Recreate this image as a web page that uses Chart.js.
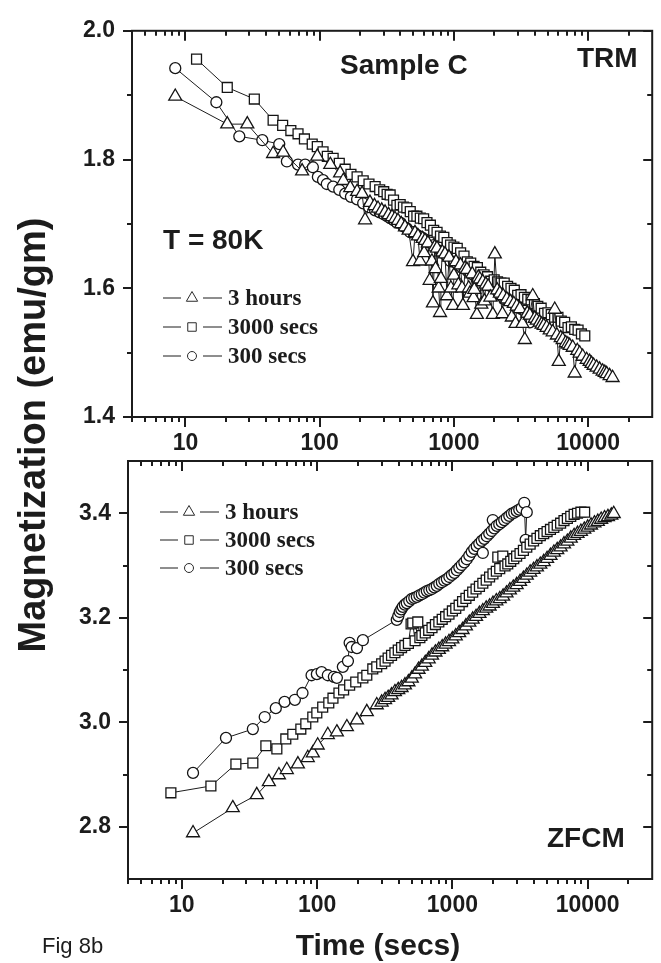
<!DOCTYPE html>
<html>
<head>
<meta charset="utf-8">
<title>Sample C - TRM / ZFCM</title>
<script src="https://cdn.jsdelivr.net/npm/chart.js@4.4.1/dist/chart.umd.min.js"></script>
<style>
  html, body { margin: 0; padding: 0; background: #fff; }
  #page { position: relative; width: 661px; height: 963px; }
  #page canvas { position: absolute; left: 0; top: 0; }
</style>
</head>
<body>
<div id="page">
  <canvas id="zfcmChart" width="661" height="963"></canvas>
  <canvas id="trmChart" width="661" height="963"></canvas>
</div>
<script>
// time axis (secs), shared by both panels
const xMin = 4;
const xMax = 30000;
const xTickValues = [10, 100, 1000, 10000];
const xMinorValues = [4, 5, 6, 7, 8, 9, 20, 30, 40, 50, 60, 70, 80, 90, 200, 300, 400, 500, 600, 700, 800, 900,
  2000, 3000, 4000, 5000, 6000, 7000, 8000, 9000, 20000];

const seriesNames = ['3 hours', '3000 secs', '300 secs'];

// TRM panel (upper)
const trmTicks = [1.4, 1.6, 1.8, 2.0];
const trmMinor = [1.5, 1.7, 1.9];

const trmTime3h = [
  8.4, 20.5, 28.9, 45, 53.5, 74, 96, 120, 142, 150,
  169, 190, 207, 218, 237, 256, 272, 290, 307, 326,
  346, 364, 383, 405, 432, 460, 496, 513, 540, 559,
  585, 600, 609, 640, 660, 686, 698, 720, 730, 748,
  770, 788, 800, 820, 858, 888, 920, 950, 984, 1000,
  1036, 1080, 1120, 1150, 1167, 1210, 1250, 1290, 1316, 1370,
  1400, 1420, 1483, 1520, 1561, 1600, 1640, 1690, 1730, 1800,
  1870, 1950, 2018, 2100, 2199, 2300, 2330, 2479, 2630, 2700,
  2794, 2880, 2940, 3097, 3240, 3375, 3520, 3675, 3866, 4000,
  4142, 4356, 4500, 4669, 4909, 5173, 5445, 5637, 5850, 6040,
  6250, 6463, 6808, 7050, 7285, 7674, 7936, 8300, 8650, 9103,
  9750, 10260, 10600, 10990, 11560, 12180, 12820, 13300, 13740, 14450,
  15210];
const trmMag3h = [
  1.898, 1.855, 1.855, 1.809, 1.811, 1.782, 1.805, 1.792, 1.779, 1.767,
  1.756, 1.750, 1.747, 1.706, 1.733, 1.728, 1.724, 1.721, 1.718, 1.714,
  1.711, 1.708, 1.705, 1.700, 1.695, 1.690, 1.641, 1.686, 1.681, 1.642,
  1.677, 1.655, 1.674, 1.670, 1.612, 1.642, 1.577, 1.664, 1.630, 1.662,
  1.600, 1.562, 1.615, 1.656, 1.653, 1.588, 1.648, 1.600, 1.573, 1.620,
  1.641, 1.605, 1.636, 1.600, 1.573, 1.631, 1.629, 1.600, 1.592, 1.622,
  1.585, 1.598, 1.559, 1.617, 1.614, 1.575, 1.610, 1.580, 1.606, 1.603,
  1.586, 1.559, 1.653, 1.597, 1.592, 1.560, 1.588, 1.583, 1.579, 1.555,
  1.576, 1.545, 1.572, 1.568, 1.545, 1.520, 1.561, 1.558, 1.588, 1.553,
  1.550, 1.547, 1.544, 1.542, 1.539, 1.535, 1.532, 1.567, 1.527, 1.486,
  1.523, 1.520, 1.515, 1.513, 1.511, 1.508, 1.468, 1.503, 1.499, 1.494,
  1.489, 1.486, 1.483, 1.480, 1.477, 1.474, 1.471, 1.469, 1.467, 1.464,
  1.461];

const trmTime3000 = [
  12.1, 20.5, 32.6, 45, 53, 61, 69, 77, 88, 96,
  106, 114, 126, 140, 155, 171, 190, 211, 233, 259,
  280, 300, 318, 335, 355, 376, 398, 421, 446, 473,
  501, 530, 562, 595, 630, 668, 707, 749, 794, 841,
  891, 944, 1000, 1059, 1122, 1189, 1259, 1334, 1413, 1496,
  1585, 1679, 1778, 1884, 1995, 2113, 2239, 2371, 2512, 2661,
  2818, 2985, 3162, 3350, 3548, 3758, 3981, 4217, 4467, 4732,
  5012, 5309, 5623, 5957, 6310, 6683, 7079, 7499, 7943, 8414,
  8913, 9441];
const trmMag3000 = [
  1.956, 1.912, 1.894, 1.861, 1.853, 1.845, 1.840, 1.832, 1.824, 1.820,
  1.812, 1.805, 1.802, 1.794, 1.785, 1.777, 1.773, 1.767, 1.762, 1.758,
  1.753, 1.750, 1.746, 1.745, 1.737, 1.729, 1.730, 1.726, 1.725, 1.719,
  1.712, 1.712, 1.709, 1.708, 1.702, 1.698, 1.690, 1.687, 1.681, 1.679,
  1.671, 1.667, 1.664, 1.662, 1.655, 1.650, 1.641, 1.639, 1.634, 1.632,
  1.625, 1.621, 1.618, 1.611, 1.613, 1.610, 1.608, 1.608, 1.603, 1.600,
  1.597, 1.589, 1.590, 1.586, 1.583, 1.582, 1.576, 1.572, 1.569, 1.561,
  1.562, 1.559, 1.555, 1.555, 1.549, 1.547, 1.539, 1.540, 1.536, 1.535,
  1.529, 1.526];

const trmTime300 = [
  8.4, 17, 25.2, 37.4, 50, 57, 69, 78, 89, 97,
  106, 113, 126, 140, 155, 171, 190, 211, 233, 259,
  280, 300, 318, 335, 355, 376, 398, 421, 446, 473,
  501, 530, 562, 595, 630, 668, 707, 749, 794, 841,
  891, 944, 1000, 1059, 1122, 1189, 1259, 1334, 1413, 1496,
  1585, 1679, 1778, 1884, 1995, 2113, 2239, 2371, 2512, 2661,
  2818, 2985, 3162, 3350, 3548, 3675];
const trmMag300 = [
  1.942, 1.889, 1.836, 1.830, 1.824, 1.797, 1.792, 1.792, 1.788, 1.773,
  1.768, 1.762, 1.758, 1.753, 1.747, 1.742, 1.738, 1.732, 1.726, 1.721,
  1.718, 1.715, 1.712, 1.709, 1.706, 1.702, 1.702, 1.696, 1.693, 1.687,
  1.687, 1.683, 1.680, 1.677, 1.672, 1.671, 1.667, 1.666, 1.658, 1.654,
  1.649, 1.642, 1.641, 1.638, 1.634, 1.633, 1.627, 1.623, 1.620, 1.613,
  1.613, 1.609, 1.605, 1.604, 1.597, 1.593, 1.589, 1.583, 1.583, 1.579,
  1.576, 1.575, 1.568, 1.565, 1.561, 1.547];

// ZFCM panel (lower)
const zfcmTicks = [2.8, 3.0, 3.2, 3.4];
const zfcmMinor = [2.9, 3.1, 3.3];

const zfcmTime3h = [
  12.1, 23.8, 35.8, 44, 52.2, 59.7, 72.1, 85.3, 93, 101,
  120, 140, 166, 197, 233, 276, 300, 318, 335, 355,
  376, 398, 421, 446, 473, 501, 530, 562, 595, 630,
  668, 707, 749, 794, 841, 891, 944, 1000, 1059, 1122,
  1189, 1259, 1334, 1413, 1496, 1585, 1679, 1778, 1884, 1995,
  2113, 2239, 2371, 2512, 2661, 2818, 2985, 3162, 3350, 3548,
  3758, 3981, 4217, 4467, 4732, 5012, 5309, 5623, 5957, 6310,
  6683, 7079, 7499, 7943, 8414, 8913, 9441, 10000, 10593, 11220,
  11885, 12589, 13335, 14125, 14962, 15590];
const zfcmMag3h = [
  2.788, 2.836, 2.861, 2.886, 2.899, 2.909, 2.920, 2.932, 2.941, 2.956,
  2.976, 2.981, 2.991, 3.004, 3.020, 3.033, 3.038, 3.043, 3.047, 3.052,
  3.058, 3.062, 3.066, 3.071, 3.077, 3.084, 3.092, 3.101, 3.107, 3.114,
  3.121, 3.128, 3.134, 3.139, 3.144, 3.149, 3.154, 3.159, 3.165, 3.171,
  3.177, 3.184, 3.191, 3.197, 3.202, 3.208, 3.213, 3.218, 3.222, 3.227,
  3.232, 3.236, 3.241, 3.247, 3.253, 3.258, 3.263, 3.269, 3.275, 3.281,
  3.287, 3.292, 3.297, 3.302, 3.307, 3.313, 3.319, 3.325, 3.330, 3.335,
  3.341, 3.346, 3.352, 3.357, 3.361, 3.365, 3.369, 3.373, 3.377, 3.381,
  3.384, 3.388, 3.391, 3.393, 3.396, 3.399];

const zfcmTime3000 = [
  8.3, 16.4, 25.1, 33.5, 41.8, 50.4, 58.7, 66.1, 75.8, 82.5,
  92.9, 99.5, 110, 122, 131, 145, 157, 174, 193, 218,
  233, 258, 276, 300, 318, 335, 355, 376, 398, 421,
  446, 473, 495, 509, 530, 555, 575, 595, 630, 668,
  707, 749, 794, 841, 891, 944, 1000, 1059, 1122, 1189,
  1259, 1334, 1413, 1496, 1585, 1679, 1778, 1884, 1995, 2113,
  2166, 2239, 2359, 2450, 2567, 2700, 2843, 2985, 3162, 3350,
  3548, 3758, 3981, 4217, 4467, 4732, 5012, 5309, 5623, 5957,
  6310, 6683, 7079, 7499, 7943, 8414, 8913, 9500];
const zfcmMag3000 = [
  2.865, 2.878, 2.920, 2.922, 2.955, 2.949, 2.968, 2.977, 2.987, 2.997,
  3.010, 3.018, 3.029, 3.037, 3.046, 3.056, 3.062, 3.071, 3.077, 3.085,
  3.090, 3.102, 3.106, 3.112, 3.117, 3.123, 3.128, 3.133, 3.138, 3.143,
  3.147, 3.151, 3.188, 3.190, 3.156, 3.192, 3.162, 3.166, 3.171, 3.176,
  3.181, 3.187, 3.192, 3.197, 3.202, 3.207, 3.213, 3.218, 3.224, 3.231,
  3.237, 3.243, 3.249, 3.255, 3.260, 3.266, 3.272, 3.278, 3.284, 3.289,
  3.316, 3.294, 3.318, 3.299, 3.303, 3.308, 3.313, 3.318, 3.323, 3.329,
  3.335, 3.341, 3.347, 3.352, 3.357, 3.361, 3.365, 3.369, 3.373, 3.377,
  3.381, 3.386, 3.390, 3.394, 3.398, 3.400, 3.402, 3.402];

const zfcmTime300 = [
  12.1, 21.2, 33.5, 41, 49.5, 57.5, 68.5, 78, 91, 99.6,
  108, 120, 133, 140, 155, 169, 174, 180, 197, 218,
  388, 398, 408, 419, 430, 445, 460, 480, 501, 523,
  546, 570, 594, 620, 647, 675, 705, 736, 767, 800,
  836, 872, 910, 950, 991, 1035, 1079, 1125, 1173, 1225,
  1277, 1333, 1390, 1450, 1514, 1580, 1648, 1679, 1720, 1795,
  1873, 1954, 1990, 2040, 2128, 2220, 2317, 2418, 2523, 2633,
  2747, 2866, 2991, 3120, 3257, 3400, 3480, 3546];
const zfcmMag300 = [
  2.903, 2.970, 2.987, 3.010, 3.027, 3.039, 3.043, 3.056, 3.090, 3.092,
  3.096, 3.090, 3.087, 3.085, 3.106, 3.117, 3.152, 3.144, 3.142, 3.157,
  3.196, 3.203, 3.211, 3.216, 3.221, 3.225, 3.228, 3.232, 3.236, 3.238,
  3.240, 3.243, 3.245, 3.248, 3.251, 3.253, 3.255, 3.258, 3.261, 3.265,
  3.268, 3.271, 3.274, 3.278, 3.282, 3.286, 3.291, 3.296, 3.301, 3.306,
  3.312, 3.319, 3.326, 3.332, 3.337, 3.342, 3.347, 3.324, 3.351, 3.356,
  3.361, 3.366, 3.387, 3.371, 3.376, 3.379, 3.383, 3.387, 3.391, 3.395,
  3.399, 3.401, 3.404, 3.407, 3.410, 3.420, 3.349, 3.402];

const ink = '#1c1c1c';
const sans = '"Liberation Sans", Arial, sans-serif';
const serif = '"Liberation Serif", "Times New Roman", serif';

// marker look for each series, same order as seriesNames
const markers = [
  { pointStyle: 'triangle', radius: 7.5 },
  { pointStyle: 'rect', radius: 7 },
  { pointStyle: 'circle', radius: 5.5 }
];

function toPoints(times, mags) {
  return times.map((t, i) => ({ x: t, y: mags[i] }));
}

function makeDatasets(series) {
  return series.map((s, i) => ({
    label: seriesNames[i],
    data: toPoints(s[0], s[1]),
    showLine: true,
    borderColor: ink,
    borderWidth: 1,
    pointStyle: markers[i].pointStyle,
    pointRadius: markers[i].radius,
    pointBackgroundColor: '#fff',
    pointBorderColor: '#151515',
    pointBorderWidth: 1.3
  }));
}

//#region 框線、刻度、圖例與文字
const panelDecor = {
  id: 'panelDecor',
  afterDraw(chart, args, opts) {
    const ctx = chart.ctx;
    const a = chart.chartArea;
    const xs = chart.scales.x;
    const ys = chart.scales.y;
    const line = (x1, y1, x2, y2) => {
      ctx.beginPath();
      ctx.moveTo(x1, y1);
      ctx.lineTo(x2, y2);
      ctx.stroke();
    };
    ctx.save();
    ctx.strokeStyle = ink;
    ctx.lineWidth = 2;
    ctx.strokeRect(a.left, a.top, a.right - a.left, a.bottom - a.top);

    // bottom ticks point out, top ticks point in
    const xTick = (v, len) => {
      const px = Math.round(xs.getPixelForValue(v));
      line(px, a.bottom, px, a.bottom + len);
      line(px, a.top, px, a.top + len);
    };
    xTickValues.forEach(v => xTick(v, 10));
    xMinorValues.forEach(v => xTick(v, 5));

    // left ticks point out, right ticks point in
    const yTick = (v, len) => {
      const py = Math.round(ys.getPixelForValue(v));
      line(a.left - len, py, a.left, py);
      line(a.right, py, a.right - len, py);
    };
    opts.yMajor.forEach(v => yTick(v, 9));
    opts.yMinor.forEach(v => yTick(v, 5));

    // legend: line - marker - line, then the label
    const lg = opts.legend;
    chart.data.datasets.forEach((ds, i) => {
      const y = lg.y + i * lg.step;
      ctx.lineWidth = 1;
      ctx.strokeStyle = ink;
      line(lg.x, y, lg.x + 18, y);
      line(lg.x + 40, y, lg.x + 59, y);
      ctx.fillStyle = '#fff';
      ctx.strokeStyle = '#2a2a2a';
      Chart.helpers.drawPoint(ctx, {
        pointStyle: ds.pointStyle,
        radius: ds.pointRadius - 1,
        rotation: 0,
        borderWidth: 1
      }, lg.x + 29, y);
      ctx.fillStyle = ink;
      ctx.font = 'bold 23px ' + serif;
      ctx.textAlign = 'left';
      ctx.textBaseline = 'middle';
      ctx.fillText(ds.label, lg.x + 65, y + 1);
    });

    // free text on the page
    (opts.notes || []).forEach(n => {
      ctx.save();
      ctx.fillStyle = ink;
      ctx.font = n.font;
      ctx.textAlign = n.align || 'left';
      ctx.textBaseline = 'alphabetic';
      ctx.translate(n.x, n.y);
      if (n.rotate) ctx.rotate(n.rotate);
      ctx.fillText(n.text, 0, 0);
      ctx.restore();
    });
    ctx.restore();
  }
};
//#endregion

function panelScales(yMin, yMax, yTicks, yWidth, xHeight) {
  return {
    x: {
      type: 'logarithmic',
      min: xMin,
      max: xMax,
      grid: { display: false, drawTicks: false },
      border: { display: false },
      afterBuildTicks: s => { s.ticks = xTickValues.map(v => ({ value: v })); },
      afterFit: s => { s.height = xHeight; },
      ticks: {
        autoSkip: false,
        maxRotation: 0,
        padding: 13,
        color: ink,
        font: { family: sans, weight: 'bold', size: 23 },
        callback: v => String(v)
      }
    },
    y: {
      min: yMin,
      max: yMax,
      grid: { display: false, drawTicks: false },
      border: { display: false },
      afterBuildTicks: s => { s.ticks = yTicks.map(v => ({ value: v })); },
      afterFit: s => { s.width = yWidth; },
      ticks: {
        padding: 17,
        color: ink,
        font: { family: sans, weight: 'bold', size: 23 },
        callback: v => v.toFixed(1)
      }
    }
  };
}

const bigFont = 'bold 28px ' + sans;

// upper panel: chart area 132..653 x 21..417
const trmChart = new Chart(document.getElementById('trmChart'), {
  type: 'scatter',
  data: {
    datasets: makeDatasets([[trmTime3h, trmMag3h], [trmTime3000, trmMag3000], [trmTime300, trmMag300]])
  },
  options: {
    responsive: false,
    animation: false,
    layout: { padding: { left: 0, top: 21, right: 8, bottom: 503 } },
    scales: panelScales(1.4, 2.0, trmTicks, 132, 43),
    plugins: {
      legend: { display: false },
      tooltip: { enabled: false },
      panelDecor: {
        yMajor: trmTicks,
        yMinor: trmMinor,
        legend: { x: 163, y: 298, step: 29 },
        notes: [
          { text: 'Sample C', x: 340, y: 74, font: bigFont },
          { text: 'TRM', x: 577, y: 67, font: bigFont },
          { text: 'T = 80K', x: 163, y: 249, font: bigFont }
        ]
      }
    }
  },
  plugins: [panelDecor]
});

// lower panel: chart area 128..653 x 461..879, also carries the axis titles
const zfcmChart = new Chart(document.getElementById('zfcmChart'), {
  type: 'scatter',
  data: {
    datasets: makeDatasets([[zfcmTime3h, zfcmMag3h], [zfcmTime3000, zfcmMag3000], [zfcmTime300, zfcmMag300]])
  },
  options: {
    responsive: false,
    animation: false,
    layout: { padding: { left: 0, top: 461, right: 8, bottom: 44 } },
    scales: panelScales(2.7, 3.5, zfcmTicks, 128, 40),
    plugins: {
      legend: { display: false },
      tooltip: { enabled: false },
      panelDecor: {
        yMajor: zfcmTicks,
        yMinor: zfcmMinor,
        legend: { x: 160, y: 512, step: 28 },
        notes: [
          { text: 'ZFCM', x: 547, y: 847, font: bigFont },
          { text: 'Time (secs)', x: 378, y: 955, font: 'bold 30px ' + sans, align: 'center' },
          { text: 'Fig 8b', x: 42, y: 953, font: '22px ' + sans },
          { text: 'Magnetization (emu/gm)', x: 45, y: 435, font: 'bold 38px ' + sans, align: 'center', rotate: -Math.PI / 2 }
        ]
      }
    }
  },
  plugins: [panelDecor]
});
</script>
</body>
</html>
